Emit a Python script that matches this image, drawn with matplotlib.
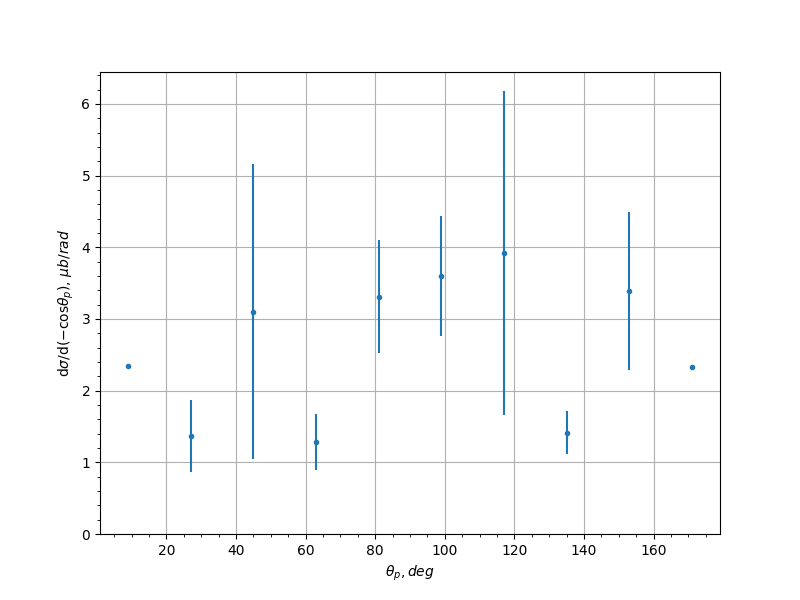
import matplotlib
matplotlib.use("Agg")
import matplotlib.pyplot as plt
from matplotlib.ticker import AutoMinorLocator

# Angle bins (deg), cross section and errors
theta = [9, 27, 45, 63, 81, 99, 117, 135, 153, 171]
xsec = [2.34, 1.37, 3.10, 1.28, 3.31, 3.60, 3.92, 1.41, 3.39, 2.33]
xsec_err = [0.0, 0.50, 2.06, 0.39, 0.79, 0.84, 2.26, 0.30, 1.10, 0.0]

fig, ax = plt.subplots(figsize=(8, 6), dpi=100)
ax.errorbar(theta, xsec, yerr=xsec_err, fmt='.')
ax.set_ylim(bottom=0)
ax.set_xlabel(r"$\theta_p, deg$")
ax.set_ylabel(r"d$\sigma$/d($-$cos$\theta_p$), $\mu b/rad$")
ax.xaxis.set_minor_locator(AutoMinorLocator())
ax.yaxis.set_minor_locator(AutoMinorLocator())
ax.grid(True)

fig.savefig("out.png")
